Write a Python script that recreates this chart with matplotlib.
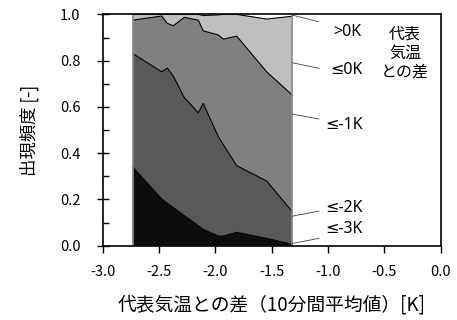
import numpy as np
import matplotlib
matplotlib.use('Agg')
import matplotlib.pyplot as plt
from matplotlib.ticker import MultipleLocator, FormatStrFormatter

plt.rcParams['font.family'] = ['Noto Sans CJK JP', 'DejaVu Sans']
plt.rcParams['axes.unicode_minus'] = False

# 代表気温との差 (10-min mean) [K]
x = [-2.734, -2.476, -2.426, -2.373, -2.275, -2.151, -2.107, -1.973, -1.929, -1.810, -1.544, -1.316]

# 出現頻度 for each class
le3 = [0.341, 0.202, 0.184, 0.165, 0.130, 0.087, 0.071, 0.042, 0.042, 0.058, 0.032, 0.006]
le2 = [0.490, 0.550, 0.584, 0.568, 0.510, 0.488, 0.544, 0.429, 0.395, 0.288, 0.248, 0.141]
le1 = [0.144, 0.241, 0.193, 0.218, 0.347, 0.400, 0.314, 0.440, 0.456, 0.560, 0.472, 0.504]
le0 = [0.025, 0.007, 0.039, 0.049, 0.013, 0.025, 0.066, 0.087, 0.107, 0.094, 0.228, 0.341]
gt0 = [0.000, 0.000, 0.000, 0.000, 0.000, 0.000, 0.005, 0.002, 0.000, 0.000, 0.020, 0.008]

labels = ['≤-3K', '≤-2K', '≤-1K', '≤0K', '>0K']
colors = ['#0d0d0d', '#595959', '#808080', '#bfbfbf', '#ffffff']

fig = plt.figure(figsize=(4.57, 3.2), dpi=100)
ax = fig.add_axes([0.2247, 0.232, 0.7393, 0.723])

ax.stackplot(x, le3, le2, le1, le0, gt0, colors=colors, lw=0)
cum = np.cumsum([le3, le2, le1, le0], axis=0)
for c in cum:
    ax.plot(x, c, color='black', lw=0.8)
ax.plot([x[0], x[0]], [0, 1], color='#8c8c8c', lw=1.2)
ax.plot([x[-1], x[-1]], [0, 1], color='#8c8c8c', lw=1.2)

# leader lines + class labels
lead = [(0.997, 0.968, -0.953, 0.922),
        (0.791, 0.767, -0.981, 0.759),
        (0.569, 0.548, -1.026, 0.522),
        (0.128, 0.150, -1.026, 0.163),
        (0.010, 0.032, -1.026, 0.072)]
for (y0, y1, tx, ty), lab in zip(lead, labels[::-1]):
    ax.plot([x[-1], -1.08], [y0, y1], color='#404040', lw=0.6, clip_on=False)
    ax.text(tx, ty, lab, ha='left', va='center', fontsize=11.5,
            family=['Noto Sans', 'DejaVu Sans'])
ax.text(-0.315, 0.833, '代表\n気温\nとの差', ha='center', va='center',
        fontsize=11.5, linespacing=1.15)

ax.set_xlim(-3.0, 0.0)
ax.set_ylim(0.0, 1.0)
ax.xaxis.set_major_locator(MultipleLocator(0.5))
ax.yaxis.set_major_locator(MultipleLocator(0.2))
ax.yaxis.set_minor_locator(MultipleLocator(0.1))
ax.xaxis.set_major_formatter(FormatStrFormatter('%.1f'))
ax.yaxis.set_major_formatter(FormatStrFormatter('%.1f'))
ax.tick_params(axis='x', direction='out', length=5, width=1, labelsize=10.5, pad=9)
ax.tick_params(axis='y', which='major', direction='inout', length=8, width=1, labelsize=10.5, pad=12)
ax.tick_params(axis='y', which='minor', direction='in', length=4, width=1)
for s in ax.spines.values():
    s.set_linewidth(1.2)

ax.set_xlabel('代表気温との差（10分間平均値）[K]', fontsize=13.5, labelpad=11)
ax.set_ylabel('出現頻度 [-]', fontsize=12.5, labelpad=15)

fig.savefig('out.png', dpi=100)
